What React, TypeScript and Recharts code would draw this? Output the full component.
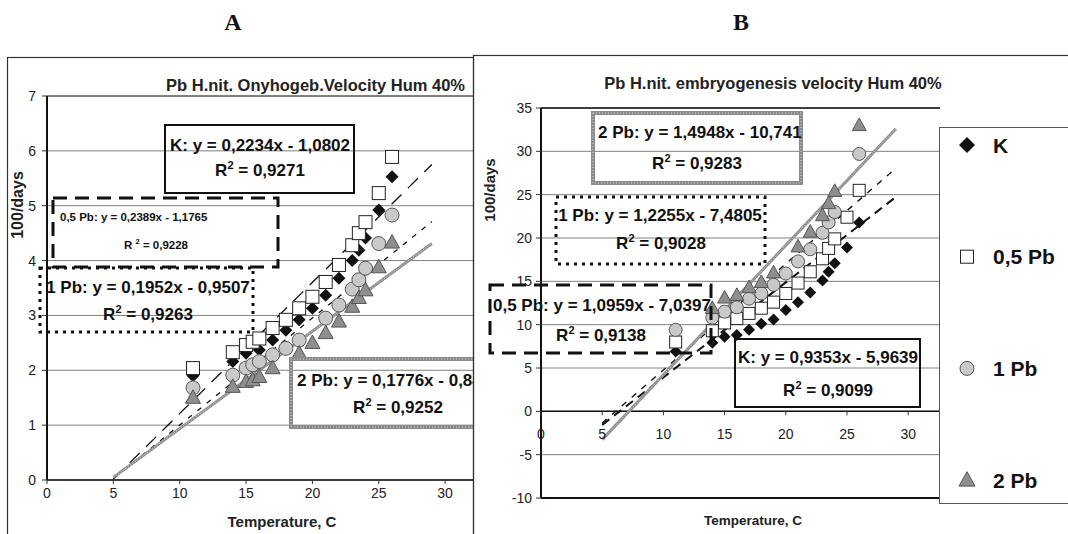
import React from 'react';
import {
  ComposedChart,
  Scatter,
  Line,
  XAxis,
  YAxis,
  CartesianGrid,
  ReferenceLine,
} from 'recharts';

const FONT = '"Liberation Sans", Arial, Helvetica, sans-serif';

// ---- panel A: oviposition velocity, 100/days ----
const tempA_K = [11, 14, 15, 16, 17, 18, 19, 20, 21, 22, 23, 23.5, 24, 25, 26];
const velA_K = [1.9, 2.16, 2.31, 2.37, 2.55, 2.73, 2.92, 3.13, 3.37, 3.68, 4.0, 4.19, 4.41, 4.92, 5.53];
const tempA_05 = [11, 14, 15, 15.5, 16, 17, 18, 19, 20, 21, 22, 23, 23.5, 24, 25, 26];
const velA_05 = [2.04, 2.33, 2.46, 2.52, 2.58, 2.77, 2.92, 3.13, 3.34, 3.61, 3.92, 4.28, 4.5, 4.7, 5.23, 5.89];
const tempA_1 = [11, 14, 15, 15.5, 16, 17, 18, 19, 21, 22, 23, 23.5, 24, 25, 26];
const velA_1 = [1.68, 1.91, 2.04, 2.1, 2.16, 2.28, 2.4, 2.55, 2.95, 3.19, 3.48, 3.65, 3.86, 4.31, 4.83];
const tempA_2 = [11, 14, 15, 15.5, 16, 17, 19, 20, 21, 22, 23, 23.5, 24, 25, 26];
const velA_2 = [1.5, 1.7, 1.79, 1.82, 1.88, 2.04, 2.31, 2.5, 2.68, 2.89, 3.16, 3.32, 3.46, 3.88, 4.33];

// trendline coefficients [slope, intercept]
const fitA_05 = [0.2389, -1.1765];
const fitA_1 = [0.1952, -0.9507];
const fitA_2 = [0.1776, -0.84];

const ticksXA = [0, 5, 10, 15, 20, 25, 30];
const ticksYA = [0, 1, 2, 3, 4, 5, 6, 7];

// ---- panel B: embryogenesis velocity, 100/days ----
const tempB_K = [11, 14, 15, 16, 17, 18, 19, 20, 21, 22, 23, 23.5, 24, 25, 26];
const velB_K = [6.9, 7.9, 8.6, 8.8, 9.4, 10.1, 10.6, 11.7, 12.6, 13.7, 15.1, 16.1, 17.1, 18.9, 21.8];
const tempB_05 = [11, 14, 15, 16, 17, 18, 19, 20, 21, 22, 23, 23.5, 24, 25, 26];
const velB_05 = [8.0, 9.3, 10.2, 10.7, 11.3, 11.9, 12.6, 13.6, 14.8, 16.1, 17.6, 18.8, 19.9, 22.4, 25.5];
const tempB_1 = [11, 14, 15, 16, 17, 18, 19, 20, 21, 22, 23, 23.5, 24, 26];
const velB_1 = [9.4, 10.8, 11.5, 12.0, 13.0, 13.6, 14.6, 15.9, 17.3, 18.7, 20.6, 21.8, 23.0, 29.7];
const tempB_2 = [14, 15, 16, 17, 18, 19, 21, 22, 23, 23.5, 24, 26];
const velB_2 = [11.9, 13.1, 13.4, 14.3, 14.9, 16.0, 19.0, 20.7, 22.6, 24.0, 25.4, 33.0];

const fitB_05 = [1.0959, -7.0397];
const fitB_1 = [1.2255, -7.4805];
const fitB_2 = [1.4948, -10.741];

const ticksXB = [0, 5, 10, 15, 20, 25, 30];
const ticksYB = [-10, -5, 0, 5, 10, 15, 20, 25, 30, 35];

const trendSpan = [5, 29];

const legendNames = ['K', '0,5 Pb', '1 Pb', '2 Pb'];

type Pt = { x: number; y: number };
const zip = (xs: number[], ys: number[]): Pt[] => xs.map((x, i) => ({ x, y: ys[i] }));
const trend = (fit: number[]): Pt[] => trendSpan.map((x) => ({ x, y: fit[0] * x + fit[1] }));

type Kind = 'diamond' | 'square' | 'circle' | 'triangle';

function Marker({ kind, cx, cy, s }: { kind: Kind; cx: number; cy: number; s: number }) {
  const h = s / 2;
  if (kind === 'diamond') {
    return <polygon points={`${cx},${cy - h} ${cx + h},${cy} ${cx},${cy + h} ${cx - h},${cy}`} fill="#111" />;
  }
  if (kind === 'square') {
    return <rect x={cx - h} y={cy - h} width={s} height={s} fill="#fff" stroke="#222" strokeWidth={1} />;
  }
  if (kind === 'circle') {
    return <circle cx={cx} cy={cy} r={h} fill="#c9c9c9" stroke="#555" strokeWidth={1} />;
  }
  return (
    <polygon
      points={`${cx},${cy - h * 1.05} ${cx + h},${cy + h * 0.75} ${cx - h},${cy + h * 0.75}`}
      fill="#8e8e8e"
      stroke="#555"
      strokeWidth={1}
    />
  );
}

const shape = (kind: Kind, s: number) => (p: any) => <Marker kind={kind} cx={p.cx} cy={p.cy} s={s} />;

const tickStyle = { fill: '#222', fontSize: 14, fontFamily: FONT };

// hatched grey trendline = two stacked lines
function hatched(key: string, data: Pt[]) {
  return [
    <Line key={key + 'a'} data={data} dataKey="y" type="linear" stroke="#8f8f8f" strokeWidth={3} dot={false} isAnimationActive={false} />,
    <Line key={key + 'b'} data={data} dataKey="y" type="linear" stroke="#e2e2e2" strokeWidth={1} strokeDasharray="1 2" dot={false} isAnimationActive={false} />,
  ];
}

function ChartA() {
  return (
    <ComposedChart width={466} height={477} margin={{ top: 39, right: 0, bottom: 0, left: 0 }}>
      <CartesianGrid vertical={false} stroke="#808080" />
      <XAxis
        type="number"
        dataKey="x"
        domain={[0, 32.1]}
        ticks={ticksXA}
        allowDataOverflow
        height={54}
        tickSize={4}
        tickMargin={4}
        tick={tickStyle}
        axisLine={{ stroke: '#111', strokeWidth: 1.5 }}
        tickLine={{ stroke: '#333' }}
      />
      <YAxis
        type="number"
        dataKey="y"
        domain={[0, 7]}
        ticks={ticksYA}
        width={40}
        tickSize={5}
        tickMargin={6}
        tick={tickStyle}
        axisLine={{ stroke: '#111', strokeWidth: 2 }}
        tickLine={{ stroke: '#333' }}
      />
      <ReferenceLine y={7} stroke="#444" strokeWidth={1.2} />
      <Scatter data={zip(tempA_K, velA_K)} dataKey="y" shape={shape('diamond', 13)} isAnimationActive={false} />
      <Scatter data={zip(tempA_05, velA_05)} dataKey="y" shape={shape('square', 13)} isAnimationActive={false} />
      <Scatter data={zip(tempA_1, velA_1)} dataKey="y" shape={shape('circle', 14)} isAnimationActive={false} />
      <Scatter data={zip(tempA_2, velA_2)} dataKey="y" shape={shape('triangle', 15)} isAnimationActive={false} />
      <Line data={trend(fitA_05)} dataKey="y" type="linear" stroke="#111" strokeWidth={1.3} strokeDasharray="14 9" dot={false} isAnimationActive={false} />
      <Line data={trend(fitA_1)} dataKey="y" type="linear" stroke="#111" strokeWidth={1.3} strokeDasharray="5 7" dot={false} isAnimationActive={false} />
      {hatched('a2', trend(fitA_2))}
    </ComposedChart>
  );
}

// plot height of panel B and the shift from the bottom edge (-10) up to the zero line
const plotHB = 390;
const zeroShiftB = (plotHB * (0 - ticksYB[0])) / (ticksYB[ticksYB.length - 1] - ticksYB[0]);

function ZeroTick(p: any) {
  const y0 = p.y - zeroShiftB;
  return (
    <g>
      <line x1={p.x} x2={p.x} y1={y0} y2={y0 + 4} stroke="#333" />
      <text x={p.x} y={y0 + 28} textAnchor="middle" fill="#222" fontSize={14} fontFamily={FONT}>
        {p.payload.value}
      </text>
    </g>
  );
}

function ChartB() {
  return (
    <ComposedChart width={595} height={479} margin={{ top: 53, right: 128, bottom: 0, left: 0 }}>
      <CartesianGrid vertical={false} stroke="#808080" />
      <XAxis
        type="number"
        dataKey="x"
        domain={[0, 32.6]}
        ticks={ticksXB}
        allowDataOverflow
        height={36}
        tickSize={0}
        tickMargin={0}
        tick={ZeroTick}
        axisLine={{ stroke: '#111', strokeWidth: 2 }}
        tickLine={false}
      />
      <YAxis
        type="number"
        dataKey="y"
        domain={[-10, 35]}
        ticks={ticksYB}
        width={68}
        tickSize={5}
        tickMargin={4}
        tick={tickStyle}
        axisLine={{ stroke: '#111', strokeWidth: 2 }}
        tickLine={{ stroke: '#333' }}
      />
      <ReferenceLine y={0} stroke="#111" strokeWidth={1.5} />
      <ReferenceLine y={35} stroke="#111" strokeWidth={1.5} />
      <Scatter data={zip(tempB_K, velB_K)} dataKey="y" shape={shape('diamond', 12)} isAnimationActive={false} />
      <Scatter data={zip(tempB_05, velB_05)} dataKey="y" shape={shape('square', 12)} isAnimationActive={false} />
      <Scatter data={zip(tempB_1, velB_1)} dataKey="y" shape={shape('circle', 13)} isAnimationActive={false} />
      <Scatter data={zip(tempB_2, velB_2)} dataKey="y" shape={shape('triangle', 14)} isAnimationActive={false} />
      <Line data={trend(fitB_05)} dataKey="y" type="linear" stroke="#111" strokeWidth={2} strokeDasharray="9 6" dot={false} isAnimationActive={false} />
      <Line data={trend(fitB_1)} dataKey="y" type="linear" stroke="#111" strokeWidth={1.4} strokeDasharray="6 7" dot={false} isAnimationActive={false} />
      {hatched('b2', trend(fitB_2))}
    </ComposedChart>
  );
}

type BoxKind = 'solid' | 'dash' | 'dot' | 'hatch';

function EqBox({ x, y, w, h, kind }: { x: number; y: number; w: number; h: number; kind: BoxKind }) {
  if (kind === 'hatch') {
    return (
      <g>
        <rect x={x} y={y} width={w} height={h} fill="none" stroke="#8a8a8a" strokeWidth={4} />
        <rect x={x} y={y} width={w} height={h} fill="none" stroke="#dcdcdc" strokeWidth={1} strokeDasharray="1 2" />
      </g>
    );
  }
  const dash = kind === 'dash' ? '14 8' : kind === 'dot' ? '3 5' : undefined;
  const sw = kind === 'solid' ? 2 : 3;
  return <rect x={x} y={y} width={w} height={h} fill="none" stroke="#111" strokeWidth={sw} strokeDasharray={dash} />;
}

function R2({ x, y, value, size, gap }: { x: number; y: number; value: string; size: number; gap?: boolean }) {
  return (
    <text x={x} y={y} textAnchor="middle" fontSize={size} fontWeight="bold" fill="#111" fontFamily={FONT}>
      <tspan>{gap ? 'R ' : 'R'}</tspan>
      <tspan dy={-size * 0.4} fontSize={size * 0.65}>2</tspan>
      <tspan dy={size * 0.4}>{' = ' + value}</tspan>
    </text>
  );
}

function Eq({ x, y, text, size, anchor }: { x: number; y: number; text: string; size: number; anchor?: 'start' | 'middle' }) {
  return (
    <text x={x} y={y} textAnchor={anchor ?? 'start'} fontSize={size} fontWeight="bold" fill="#111" fontFamily={FONT}>
      {text}
    </text>
  );
}

const legendKinds: Kind[] = ['diamond', 'square', 'circle', 'triangle'];
const legendSizes = [16, 13, 14, 16];

function Overlay() {
  return (
    <svg width={1068} height={534} style={{ position: 'absolute', left: 0, top: 0, pointerEvents: 'none' }}>
      <defs>
        <clipPath id="clipA">
          <rect x={7} y={0} width={466} height={534} />
        </clipPath>
      </defs>

      <text x={233} y={30} textAnchor="middle" fontSize={24} fontWeight="bold" fontFamily='"Liberation Serif", "Times New Roman", serif' fill="#111">A</text>
      <text x={741} y={30} textAnchor="middle" fontSize={24} fontWeight="bold" fontFamily='"Liberation Serif", "Times New Roman", serif' fill="#111">B</text>

      {/* frames */}
      <rect x={7.5} y={57.5} width={466} height={500} fill="none" stroke="#333" strokeWidth={1.2} />
      <rect x={473.5} y={55.5} width={620} height={500} fill="none" stroke="#333" strokeWidth={1.2} />

      {/* panel A texts */}
      <text x={465} y={91} textAnchor="end" fontSize={16.5} fontWeight="bold" fill="#222" fontFamily={FONT}>
        Pb H.nit. Onyhogeb.Velocity Hum 40%
      </text>
      <text transform="translate(23,205) rotate(-90)" textAnchor="middle" fontSize={16} fontWeight="bold" fill="#222" fontFamily={FONT}>
        100/days
      </text>
      <text x={282} y={527} textAnchor="middle" fontSize={15} fontWeight="bold" fill="#222" fontFamily={FONT}>
        Temperature, C
      </text>

      <g clipPath="url(#clipA)">
        <EqBox x={165} y={125} w={189} h={68} kind="solid" />
        <Eq x={260} y={151} text="K: y = 0,2234x - 1,0802" size={17} anchor="middle" />
        <R2 x={260} y={176} value="0,9271" size={17} />

        <EqBox x={53} y={198} w={225} h={69} kind="dash" />
        <Eq x={60} y={221} text="0,5 Pb: y = 0,2389x - 1,1765" size={11.5} />
        <R2 x={156} y={249} value="0,9228" size={11.5} gap />

        <EqBox x={40} y={268} w={213} h={64} kind="dot" />
        <Eq x={148} y={293} text="1 Pb: y = 0,1952x - 0,9507" size={17} anchor="middle" />
        <R2 x={148} y={320} value="0,9263" size={17} />

        <EqBox x={291} y={359} w={214} h={68} kind="hatch" />
        <Eq x={297} y={386} text="2 Pb: y = 0,1776x - 0,84" size={17} />
        <R2 x={398} y={413} value="0,9252" size={17} />
      </g>

      {/* panel B texts */}
      <text x={773} y={89} textAnchor="middle" fontSize={16.5} fontWeight="bold" fill="#222" fontFamily={FONT}>
        Pb H.nit. embryogenesis velocity Hum 40%
      </text>
      <text transform="translate(495,190) rotate(-90)" textAnchor="middle" fontSize={15} fontWeight="bold" fill="#222" fontFamily={FONT}>
        100/days
      </text>
      <text x={753} y={525} textAnchor="middle" fontSize={13.5} fontWeight="bold" fill="#222" fontFamily={FONT}>
        Temperature, C
      </text>

      <EqBox x={593} y={113} w={208} h={70} kind="hatch" />
      <Eq x={598} y={138} text="2 Pb: y = 1,4948x - 10,741" size={17} />
      <R2 x={697} y={169} value="0,9283" size={17} />

      <EqBox x={556} y={197} w={209} h={67} kind="dot" />
      <Eq x={660} y={221} text="1 Pb: y = 1,2255x - 7,4805" size={17} anchor="middle" />
      <R2 x={661} y={249} value="0,9028" size={17} />

      <EqBox x={490} y={285} w={221} h={68} kind="dash" />
      <Eq x={493} y={311} text="0,5 Pb: y = 1,0959x - 7,0397" size={17} />
      <R2 x={601} y={341} value="0,9138" size={17} />

      <EqBox x={735} y={339} w={185} h={68} kind="solid" />
      <Eq x={828} y={363} text="K: y = 0,9353x - 5,9639" size={17} anchor="middle" />
      <R2 x={828} y={396} value="0,9099" size={17} />

      {/* legend */}
      <rect x={939.5} y={127.5} width={130} height={376} fill="#fff" stroke="#555" strokeWidth={1} />
      {legendNames.map((name, i) => {
        const cy = 145 + i * 111.7;
        return (
          <g key={name}>
            <Marker kind={legendKinds[i]} cx={967} cy={cy} s={legendSizes[i]} />
            <text x={993} y={cy + 7.5} fontSize={21} fontWeight="bold" fill="#111" fontFamily={FONT}>
              {name}
            </text>
          </g>
        );
      })}
    </svg>
  );
}

export default function App() {
  return (
    <div style={{ position: 'absolute', left: 0, top: 0, width: 1068, height: 534, background: '#fff', overflow: 'hidden', fontFamily: FONT }}>
      <div style={{ position: 'absolute', left: 7, top: 57, width: 466, height: 477, overflow: 'hidden' }}>
        <ChartA />
      </div>
      <div style={{ position: 'absolute', left: 473, top: 55, width: 595, height: 479, overflow: 'hidden' }}>
        <ChartB />
      </div>
      <Overlay />
    </div>
  );
}
